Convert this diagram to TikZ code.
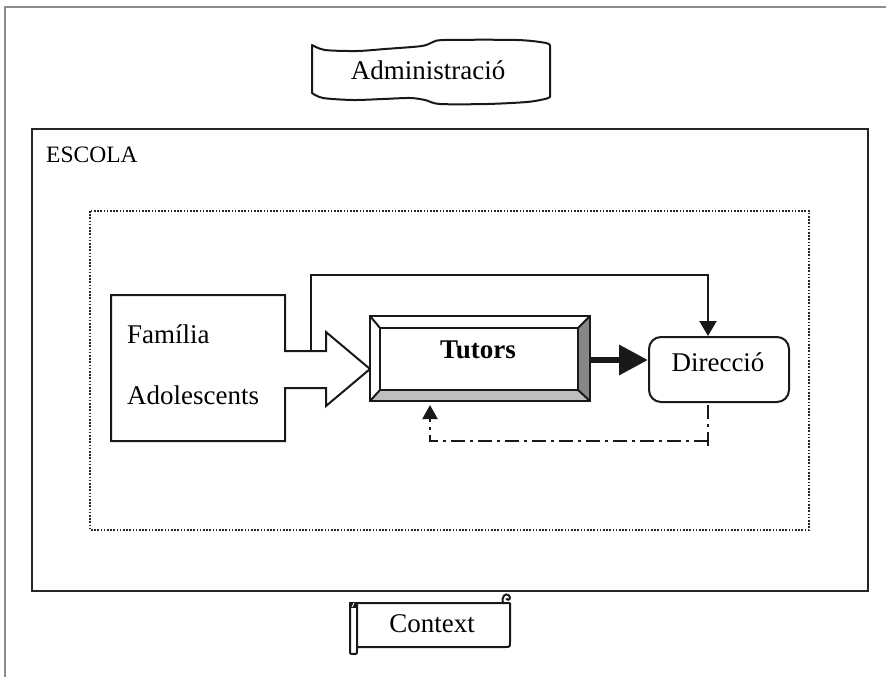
\documentclass[tikz,border=0pt]{standalone}
\usepackage{fontspec}
\setmainfont{Liberation Serif}
\usetikzlibrary{arrows.meta,calc}
\tikzset{
  ln/.style={draw=black!90, line width=2pt},
  lbl/.style={font=\fontsize{27}{30}\selectfont, inner sep=0pt, text=black},
  dashdot/.style={dash pattern=on 14pt off 5pt on 3pt off 5pt},
}
\begin{document}
\begin{tikzpicture}[x=1pt,y=-1pt]
\useasboundingbox (0,0) rectangle (886,677);
% outer gray frame
\draw[draw=black!45, line width=2pt] (892,7) -- (5,7) -- (5,684);
% Administracio tape
\draw[ln, line join=round, fill=white]
  plot[smooth, tension=0.5] coordinates {(312,45) (325,50) (357,51) (385,49) (422,46) (433,42) (445,40) (517,40) (546,43) (550,46)}
  -- (550,97)
  -- plot[smooth, tension=0.5] coordinates {(550,97) (545,99) (527,102) (487,104) (440,104) (425,100) (410,98) (383,99) (353,100) (323,98) (312,93)}
  -- cycle;
\node[lbl, anchor=base] (adm) at (428,79) {Administració};
% ESCOLA box
\draw[draw=black!85, line width=2.6pt] (32,129) rectangle (868,591);
\node[font=\fontsize{23.5}{26}\selectfont, anchor=base west, inner sep=0pt, text=black] (escola) at (46,162) {ESCOLA};
% dotted box
\draw[draw=black!85, line width=1.6pt, dash pattern=on 1.6pt off 1.6pt] (90,211) rectangle (809,530);
% Familia / Adolescents arrow shape
\draw[ln, fill=white] (111,295) -- (285,295) -- (285,351) -- (326,351) -- (326,332) -- (370,369)
  -- (326,406) -- (326,388) -- (285,388) -- (285,441) -- (111,441) -- cycle;
\coordinate (famtop) at (311,351);
\node[lbl, anchor=base west] (fam) at (127,343) {Família};
\node[lbl, anchor=base west] (ado) at (127,404) {Adolescents};
% Tutors bevel box
\node[minimum width=220pt, minimum height=85pt, inner sep=0pt, outer sep=0pt] (tut) at (480,358.5) {};
\fill[white] (370,316) -- (590,316) -- (578,328) -- (380,328) -- cycle;
\fill[white] (370,316) -- (380,328) -- (380,390) -- (370,401) -- cycle;
\fill[black!47] (590,316) -- (590,401) -- (578,390) -- (578,328) -- cycle;
\fill[black!25] (370,401) -- (380,390) -- (578,390) -- (590,401) -- cycle;
\draw[ln] (370,316) rectangle (590,401);
\draw[ln] (380,328) rectangle (578,390);
\draw[ln] (370,316) -- (380,328) (590,316) -- (578,328) (370,401) -- (380,390) (590,401) -- (578,390);
\node[lbl, font=\fontsize{27}{30}\selectfont\bfseries, anchor=base] (tuttxt) at (478,358) {Tutors};
% Direccio
\node[ln, rounded corners=12pt, minimum width=140pt, minimum height=65pt, inner sep=0pt] (dir) at (719,369.5) {};
\node[lbl, anchor=base] (dirtxt) at (718,371) {Direcció};
% thick arrow Tutors -> Direccio
\draw[draw=black!90, line width=6.5pt, -{Triangle[length=29pt,width=29pt]}]
  ([yshift=-1.5pt]tut.east) -- ([yshift=-1.5pt]tut.east -| dir.west);
% top connector
\draw[ln, -{Triangle[length=15pt,width=17pt]}] (famtop) -- (311,275) -| ([xshift=-11pt]dir.north);
% dash-dot feedback
\coordinate (dd) at (708,441);
\draw[ln, dashdot] ([xshift=-11pt,yshift=-2pt]dir.south) -- (708,448);
\draw[ln, dashdot, -{Triangle[length=14pt,width=15pt]}] (dd) -| ([xshift=-50pt,yshift=-4pt]tut.south);
% Context scroll
\draw[ln, fill=white, line join=round] (357,603) -- (510,603) -- (510,642) .. controls (510,647) .. (505,647) -- (357,647);
\draw[ln, fill=white, line join=round] (357,603) -- (357,650) .. controls (357,654) .. (353.5,654) .. controls (350,654) .. (350,650) -- (350,604) -- cycle;
\fill[black!90] (349,602) rectangle (358,608);
\draw[white, line width=0.8pt] (352,607) -- (354,603);
\draw[ln, line cap=round] (503,603) .. controls (501,596) and (506,592.5) .. (509,595.5) .. controls (511.5,598.5) and (508.5,601) .. (506.5,599);
\node[lbl, anchor=base] (ctx) at (432,632) {Context};
\end{tikzpicture}
\end{document}
